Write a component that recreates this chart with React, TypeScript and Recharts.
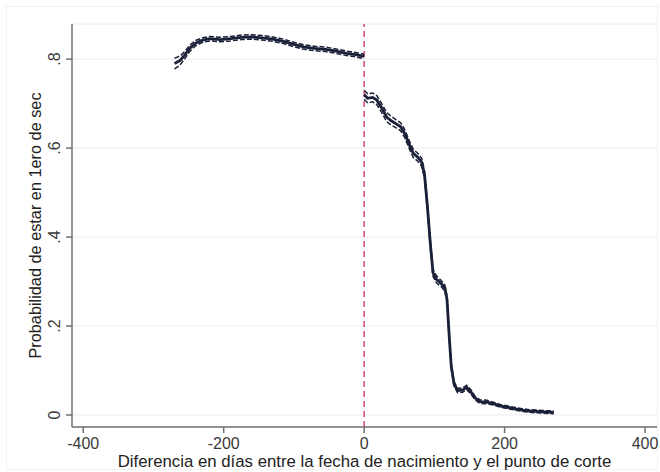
import { LineChart, Line, XAxis, YAxis, CartesianGrid, ReferenceLine } from 'recharts';

// Días respecto al punto de corte (antes del corte)
const leftDays = [-270, -262, -255, -248, -240, -230, -220, -205, -190, -175, -160, -145, -130, -115, -100, -85, -70, -55, -40, -25, -12, 0];
const leftMean = [0.79, 0.797, 0.81, 0.825, 0.836, 0.843, 0.846, 0.844, 0.846, 0.849, 0.85, 0.848, 0.845, 0.84, 0.833, 0.827, 0.824, 0.822, 0.818, 0.813, 0.81, 0.806];
const leftHi = [0.802, 0.807, 0.818, 0.832, 0.842, 0.848, 0.851, 0.849, 0.851, 0.854, 0.855, 0.853, 0.85, 0.845, 0.838, 0.832, 0.829, 0.827, 0.823, 0.818, 0.815, 0.811];
const leftLo = [0.778, 0.787, 0.802, 0.818, 0.83, 0.838, 0.841, 0.839, 0.841, 0.844, 0.845, 0.843, 0.84, 0.835, 0.828, 0.822, 0.819, 0.817, 0.813, 0.808, 0.805, 0.801];

// Después del corte
const rightDays = [0, 5, 12, 18, 25, 32, 38, 45, 52, 58, 65, 70, 76, 82, 86, 90, 94, 98, 103, 110, 115, 118, 121, 124, 128, 133, 140, 146, 152, 158, 165, 175, 185, 195, 205, 215, 225, 235, 245, 255, 270];
const rightMean = [0.72, 0.712, 0.714, 0.708, 0.69, 0.67, 0.662, 0.655, 0.648, 0.632, 0.605, 0.588, 0.58, 0.568, 0.54, 0.47, 0.39, 0.32, 0.305, 0.295, 0.285, 0.26, 0.18, 0.11, 0.07, 0.055, 0.056, 0.062, 0.052, 0.038, 0.03, 0.029, 0.025, 0.02, 0.017, 0.014, 0.011, 0.009, 0.008, 0.007, 0.006];
const rightHi = [0.73, 0.722, 0.724, 0.718, 0.7, 0.68, 0.672, 0.664, 0.657, 0.641, 0.614, 0.597, 0.589, 0.577, 0.548, 0.478, 0.398, 0.328, 0.313, 0.302, 0.292, 0.267, 0.186, 0.116, 0.075, 0.06, 0.061, 0.067, 0.057, 0.042, 0.034, 0.033, 0.028, 0.023, 0.02, 0.017, 0.014, 0.012, 0.011, 0.01, 0.009];
const rightLo = [0.71, 0.702, 0.704, 0.698, 0.68, 0.66, 0.652, 0.646, 0.639, 0.623, 0.596, 0.579, 0.571, 0.559, 0.532, 0.462, 0.382, 0.312, 0.297, 0.288, 0.278, 0.253, 0.174, 0.104, 0.065, 0.05, 0.051, 0.057, 0.047, 0.034, 0.026, 0.025, 0.022, 0.017, 0.014, 0.011, 0.008, 0.006, 0.005, 0.004, 0.003];

const xTicks = [-400, -200, 0, 200, 400];
const yTicks = [0, 0.2, 0.4, 0.6, 0.8];
const yTickLabels = ['0', '.2', '.4', '.6', '.8'];

const xTitle = 'Diferencia en días entre la fecha de nacimiento y el punto de corte';
const yTitle = 'Probabilidad de estar en 1ero de sec';

const toRows = (days: number[], mean: number[], hi: number[], lo: number[]) =>
  days.map((x, i) => ({ x, y: mean[i], hi: hi[i], lo: lo[i] }));

const leftData = toRows(leftDays, leftMean, leftHi, leftLo);
const rightData = toRows(rightDays, rightMean, rightHi, rightLo);

const FONT = '"Liberation Sans", Arial, sans-serif';
const TEXT = '#3a3a3a';
const AXIS = '#707070';
const LINE = '#1a2038';

function YTick({ x, y, payload }: any) {
  const i = yTicks.indexOf(payload.value);
  const bx = x - 4;
  return (
    <text
      x={bx}
      y={y}
      transform={`rotate(-90, ${bx}, ${y})`}
      textAnchor="middle"
      fontSize={16}
      fill={TEXT}
      fontFamily={FONT}
    >
      {i >= 0 ? yTickLabels[i] : payload.value}
    </text>
  );
}

export default function App() {
  return (
    <div style={{ position: 'absolute', left: 0, top: 0, width: 660, height: 472, background: '#fff' }}>
      <div
        style={{
          position: 'absolute',
          left: 6,
          top: 6,
          width: 650,
          height: 462,
          border: '1px solid #f1f1f1',
        }}
      />
      <div style={{ position: 'absolute', left: 0, top: 0 }}>
        <LineChart
          width={660}
          height={472}
          margin={{ top: 24, right: 3, bottom: 0, left: 0 }}
          style={{ fontFamily: FONT }}
        >
          <CartesianGrid horizontal vertical={false} stroke="#ececec" strokeWidth={1} />
          <XAxis
            dataKey="x"
            type="number"
            domain={[-416, 417]}
            ticks={xTicks}
            allowDataOverflow
            height={45}
            stroke={AXIS}
            strokeWidth={1.5}
            tickSize={6}
            tickMargin={5}
            tick={{ fontSize: 16, fill: TEXT, fontFamily: FONT }}
            label={{
              value: xTitle,
              position: 'insideBottom',
              offset: 5,
              style: { fontSize: 16.8, fill: '#222', fontFamily: FONT },
            }}
          />
          <YAxis
            type="number"
            domain={[-0.027, 0.879]}
            ticks={yTicks}
            allowDataOverflow
            width={72}
            stroke={AXIS}
            strokeWidth={1.5}
            tickSize={6}
            tick={<YTick />}
            label={{
              value: yTitle,
              angle: -90,
              position: 'insideLeft',
              offset: 35,
              style: { textAnchor: 'middle', fontSize: 16.3, fill: '#222', fontFamily: FONT },
            }}
          />
          <ReferenceLine x={0} stroke="#d4457a" strokeWidth={1.5} strokeDasharray="6 4" />
          <Line data={leftData} dataKey="hi" stroke={LINE} strokeWidth={1.5} strokeDasharray="5 2" dot={false} isAnimationActive={false} />
          <Line data={leftData} dataKey="lo" stroke={LINE} strokeWidth={1.5} strokeDasharray="5 2" dot={false} isAnimationActive={false} />
          <Line data={leftData} dataKey="y" stroke={LINE} strokeWidth={2.8} dot={false} isAnimationActive={false} />
          <Line data={rightData} dataKey="hi" stroke={LINE} strokeWidth={1.5} strokeDasharray="5 2" dot={false} isAnimationActive={false} />
          <Line data={rightData} dataKey="lo" stroke={LINE} strokeWidth={1.5} strokeDasharray="5 2" dot={false} isAnimationActive={false} />
          <Line data={rightData} dataKey="y" stroke={LINE} strokeWidth={2.8} dot={false} isAnimationActive={false} />
        </LineChart>
      </div>
    </div>
  );
}
